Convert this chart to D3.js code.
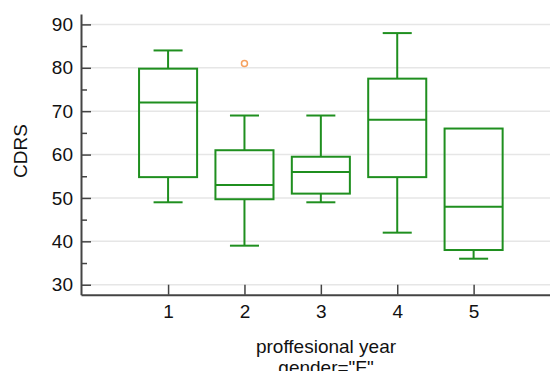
<!DOCTYPE html>
<html>
<head>
  <meta charset="utf-8">
  <script src="https://d3js.org/d3.v7.min.js"></script>
  <style>
    body { margin: 0; background: #fff; }
    text { font-family: "Liberation Sans", Arial, sans-serif; }
  </style>
</head>
<body>
  <script type="text/javascript">
    "use strict";
    // values
    var years = [1, 2, 3, 4, 5];
    var whiskerLow = [49, 39, 49, 42, 36];
    var q1 = [54.8, 49.7, 51, 54.8, 38];
    var median = [72, 53, 56, 68, 48];
    var q3 = [79.8, 61, 59.5, 77.5, 66];
    var whiskerHigh = [84, 69, 69, 88, 66];
    var outliers = [{year: 2, value: 81}];
    var yMajor = [30, 40, 50, 60, 70, 80, 90];
    var yMinor = [35, 45, 55, 65, 75, 85];

    var width = 550, height = 371;
    var green = "#1f8f1f";
    var fontSize = 19;

    var svg = d3.select("body")
      .append("svg")
        .attr("width", width)
        .attr("height", height);

    var x = d3.scaleLinear().domain([-0.14, 6]).range([81, 550]);
    var y = d3.scaleLinear().domain([27.7, 92.4]).range([294.7, 14]);

    // grid
    svg.append("g")
      .selectAll("line")
      .data(yMajor)
      .enter().append("line")
        .attr("x1", 81).attr("x2", 550)
        .attr("y1", function(d) { return y(d); })
        .attr("y2", function(d) { return y(d); })
        .attr("stroke", "#e6e6e6")
        .attr("stroke-width", 1.5);

    // boxes
    var box = svg.append("g")
      .selectAll("g")
      .data(years)
      .enter().append("g")
        .attr("fill", "none")
        .attr("stroke", green)
        .attr("stroke-width", 2);

    box.append("line")
      .attr("x1", function(d) { return x(d); })
      .attr("x2", function(d) { return x(d); })
      .attr("y1", function(d, i) { return y(whiskerLow[i]); })
      .attr("y2", function(d, i) { return y(q1[i]); });
    box.append("line")
      .attr("x1", function(d) { return x(d); })
      .attr("x2", function(d) { return x(d); })
      .attr("y1", function(d, i) { return y(q3[i]); })
      .attr("y2", function(d, i) { return y(whiskerHigh[i]); });
    box.append("line")
      .attr("x1", function(d) { return x(d - 0.19); })
      .attr("x2", function(d) { return x(d + 0.19); })
      .attr("y1", function(d, i) { return y(whiskerLow[i]); })
      .attr("y2", function(d, i) { return y(whiskerLow[i]); });
    box.append("line")
      .attr("x1", function(d) { return x(d - 0.19); })
      .attr("x2", function(d) { return x(d + 0.19); })
      .attr("y1", function(d, i) { return y(whiskerHigh[i]); })
      .attr("y2", function(d, i) { return y(whiskerHigh[i]); })
      .attr("display", function(d, i) { return whiskerHigh[i] > q3[i] ? null : "none"; });
    box.append("rect")
      .attr("x", function(d) { return x(d - 0.38); })
      .attr("width", function(d) { return x(d + 0.38) - x(d - 0.38); })
      .attr("y", function(d, i) { return y(q3[i]); })
      .attr("height", function(d, i) { return y(q1[i]) - y(q3[i]); });
    box.append("line")
      .attr("x1", function(d) { return x(d - 0.38); })
      .attr("x2", function(d) { return x(d + 0.38); })
      .attr("y1", function(d, i) { return y(median[i]); })
      .attr("y2", function(d, i) { return y(median[i]); });

    svg.append("g")
      .selectAll("circle")
      .data(outliers)
      .enter().append("circle")
        .attr("cx", function(d) { return x(d.year); })
        .attr("cy", function(d) { return y(d.value); })
        .attr("r", 3)
        .attr("fill", "#fff")
        .attr("stroke", "#f6a15f")
        .attr("stroke-width", 1.5);

    // axes
    svg.append("g")
      .attr("transform", "translate(81,0)")
      .call(d3.axisLeft(y).tickValues(yMajor).tickSizeInner(-10).tickSizeOuter(0).tickPadding(8));
    svg.append("g")
      .attr("transform", "translate(81,0)")
      .call(d3.axisLeft(y).tickValues(yMinor).tickSizeInner(-6).tickSizeOuter(0).tickFormat(""))
      .select(".domain").remove();

    svg.append("g")
      .attr("transform", "translate(0,294.7)")
      .call(d3.axisBottom(x).tickValues(years).tickSizeInner(-10).tickSizeOuter(0).tickPadding(10).tickFormat(d3.format("d")));

    svg.selectAll(".domain").attr("stroke", "#444").attr("stroke-width", 2);
    svg.selectAll(".tick line").attr("stroke", "#444").attr("stroke-width", 1.5);
    svg.selectAll(".tick text")
      .attr("font-family", "Liberation Sans, Arial, sans-serif")
      .attr("font-size", fontSize)
      .attr("fill", "#111");

    svg.append("text")
      .attr("transform", "translate(27,151) rotate(-90)")
      .attr("text-anchor", "middle")
      .attr("font-size", fontSize)
      .attr("fill", "#111")
      .text("CDRS");

    svg.append("text")
      .attr("x", 326).attr("y", 353)
      .attr("text-anchor", "middle")
      .attr("font-size", fontSize)
      .attr("fill", "#111")
      .text("proffesional year");
    svg.append("text")
      .attr("x", 326).attr("y", 374)
      .attr("text-anchor", "middle")
      .attr("font-size", fontSize)
      .attr("fill", "#111")
      .text("gender=\"F\"");
  </script>
</body>
</html>
